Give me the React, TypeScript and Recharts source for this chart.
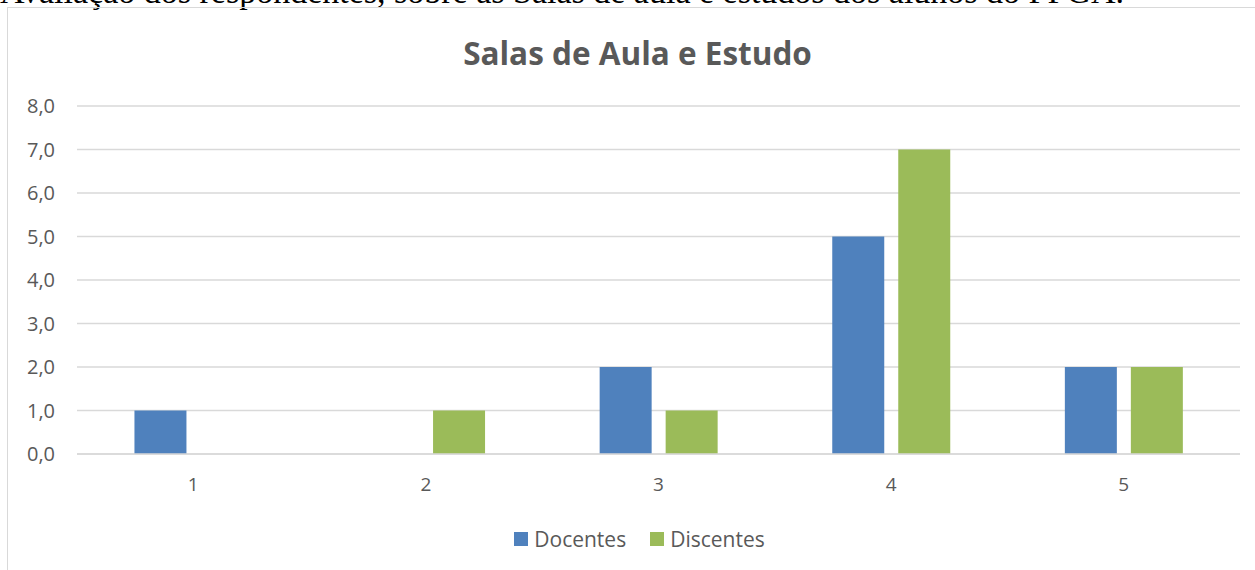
import React from 'react';
import { BarChart, Bar, XAxis, YAxis, CartesianGrid, Legend } from 'recharts';

const categories = ['1', '2', '3', '4', '5'];
const docentes = [1, 0, 2, 5, 2];
const discentes = [0, 1, 1, 7, 2];
const yTicks = [0, 1, 2, 3, 4, 5, 6, 7, 8];

const data = categories.map((c, i) => ({ name: c, Docentes: docentes[i], Discentes: discentes[i] }));

const FONT = '"Open Sans", "Noto Sans", sans-serif';
const TEXT = '#595959';

const LegendContent = () => (
  <div style={{ display: 'flex', justifyContent: 'center', gap: 24, fontFamily: FONT, fontSize: 21, color: TEXT, paddingLeft: 39 }}>
    {[{ n: 'Docentes', c: '#4F81BD' }, { n: 'Discentes', c: '#9BBB59' }].map(d => (
      <div key={d.n} style={{ display: 'flex', alignItems: 'center' }}>
        <div style={{ width: 14, height: 14, background: d.c, marginRight: 6 }} />
        <span>{d.n}</span>
      </div>
    ))}
  </div>
);

const App: React.FC = () => {
  return (
    <div style={{ position: 'fixed', left: 0, top: 0, width: 1255, height: 570, overflow: 'hidden', background: '#fff' }}>
      <div style={{ position: 'absolute', left: 0, top: -25, whiteSpace: 'nowrap', fontFamily: '"Liberation Serif", serif', fontSize: 34, lineHeight: '34px', color: '#000' }}>
        Avaliação dos respondentes, sobre as Salas de aula e estudos dos alunos do PPGA.
      </div>
      <div style={{ position: 'absolute', left: 7, top: 7, width: 1260, height: 600, border: '1px solid #d9d9d9' }} />
      <div style={{ position: 'absolute', left: 0, top: 31, width: 1275, textAlign: 'center', fontFamily: FONT, fontWeight: 700, fontSize: 31.5, color: TEXT }}>
        Salas de Aula e Estudo
      </div>
      <div style={{ position: 'absolute', left: 0, top: 0 }}>
        <BarChart width={1255} height={570} data={data} margin={{ top: 106, right: 15, left: 0, bottom: 15 }} barCategoryGap="24.7%" barGap={14}>
          <CartesianGrid vertical={false} stroke="#d9d9d9" strokeWidth={1.5} />
          <XAxis dataKey="name" axisLine={{ stroke: '#d9d9d9', strokeWidth: 1.5 }} tickLine={false} height={71} tickMargin={18}
            tick={{ fill: TEXT, fontSize: 19, fontFamily: FONT }} />
          <YAxis domain={[0, 8]} ticks={yTicks} width={77} axisLine={false} tickLine={false} tickMargin={16}
            tickFormatter={(v: number) => v.toFixed(1).replace('.', ',')}
            tick={{ fill: TEXT, fontSize: 20, fontFamily: FONT }} />
          <Legend verticalAlign="bottom" height={30} content={<LegendContent />} />
          <Bar dataKey="Docentes" fill="#4F81BD" isAnimationActive={false} />
          <Bar dataKey="Discentes" fill="#9BBB59" isAnimationActive={false} />
        </BarChart>
      </div>
    </div>
  );
};

export default App;
